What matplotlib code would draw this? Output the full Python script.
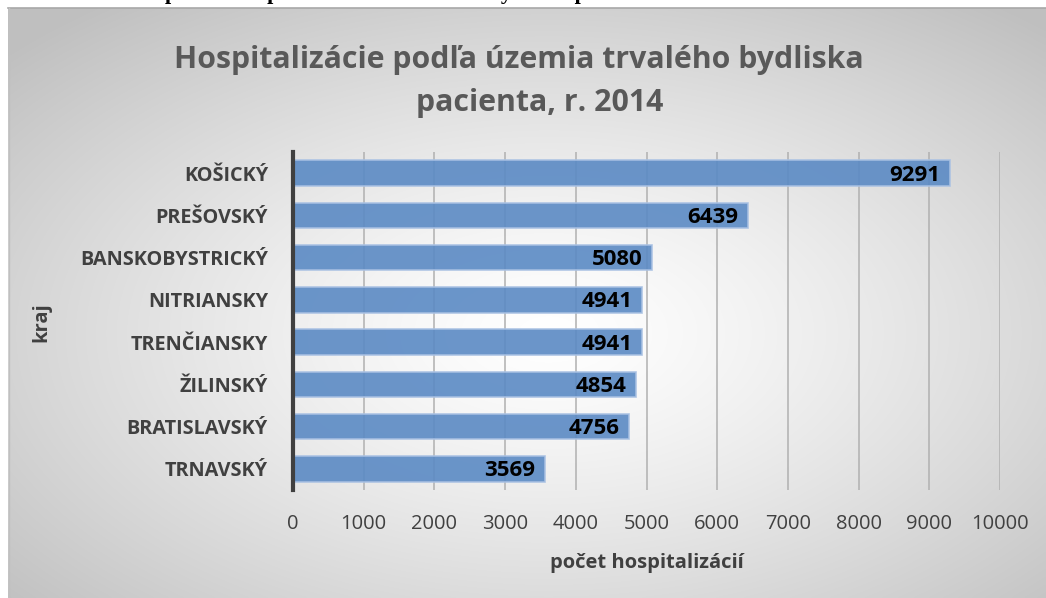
import numpy as np
import matplotlib
matplotlib.use("Agg")
import matplotlib.pyplot as plt

categories = ["KOŠICKÝ", "PREŠOVSKÝ", "BANSKOBYSTRICKÝ", "NITRIANSKY",
              "TRENČIANSKY", "ŽILINSKÝ", "BRATISLAVSKÝ", "TRNAVSKÝ"]
values = [9291, 6439, 5080, 4941, 4941, 4854, 4756, 3569]
xticks = [0, 1000, 2000, 3000, 4000, 5000, 6000, 7000, 8000, 9000, 10000]
title = "Hospitalizácie podľa územia trvalého bydliska\npacienta, r. 2014"
xlabel = "počet hospitalizácií"
ylabel = "kraj"
caption = "Hospitalizácie podľa územia trvalého bydliska pacienta"

plt.rcParams['font.family'] = ['Open Sans', 'DejaVu Sans']

W, H = 1046, 598
fig = plt.figure(figsize=(W / 100, H / 100), dpi=100)
fig.patch.set_facecolor("white")

# background radial gradient of chart area
bg = fig.add_axes([8 / W, 0, 1 - 8 / W, 1 - 8 / H], zorder=0)
ny, nx = 300, 520
yy, xx = np.mgrid[0:ny, 0:nx]
cx, cy = nx * 0.52, ny * 0.55
r = np.sqrt(((xx - cx) / (nx * 0.5)) ** 2 + ((yy - cy) / (ny * 0.5)) ** 2) / np.sqrt(2)
g = 1.0 - 0.25 * np.clip(r, 0, 1) ** 1.3
bg.imshow(np.dstack([g, g, g]), aspect="auto", extent=[0, 1, 0, 1], interpolation="bilinear")
bg.set_axis_off()
fig.add_artist(plt.Line2D([8 / W, 1], [1 - 7.5 / H, 1 - 7.5 / H], color="#a8a8a8", lw=1.2))
fig.add_artist(plt.Line2D([8.5 / W, 8.5 / W], [0, 1 - 7.5 / H], color="#c0c0c0", lw=1.0))

# cut-off caption above the chart (cropped in the source image)
fig.text(128 / W, 1 + 1 / H, caption, family="Liberation Serif", weight="bold",
         fontsize=16, color="black", ha="left", va="baseline")

ax = fig.add_axes([293 / W, 1 - 490 / H, (1000 - 293) / W, (490 - 152) / H], zorder=2)
ax.patch.set_alpha(0)
y = np.arange(len(categories))
ax.barh(y, values, height=0.6, color="#5b8ac4", alpha=0.9,
        edgecolor="#a9c1e3", linewidth=1.2, zorder=3)
ax.set_ylim(len(categories) - 0.5, -0.5)
ax.set_xlim(0, 10000)
ax.set_xticks(xticks)
ax.set_xticklabels([str(t) for t in xticks], fontsize=14.5, color="#404040")
ax.set_yticks(y)
ax.set_yticklabels(categories, fontsize=14.3, fontweight="bold", color="#404040")
ax.tick_params(axis="both", length=0)
ax.tick_params(axis="x", pad=17)
ax.tick_params(axis="y", pad=18)
ax.grid(axis="x", color="#b0b0b0", lw=1.1, zorder=1)
for s in ["top", "right", "bottom"]:
    ax.spines[s].set_visible(False)
ax.spines["left"].set_color("#404040")
ax.spines["left"].set_linewidth(3)
ax.spines["left"].set_zorder(4)

for yi, v in zip(y, values):
    ax.text(v - 140, yi + 0.05, str(v), ha="right", va="center",
            fontsize=16, fontweight="bold", color="black", zorder=5)

ax.set_xlabel(xlabel, fontsize=14.5, fontweight="bold", color="#404040", labelpad=14)
fig.text(41 / W, 1 - 322 / H, ylabel, rotation=90, fontsize=14.5, fontweight="bold",
         color="#404040", ha="center", va="center")

fig.text(519 / W, 1 - 60 / H, "Hospitalizácie podľa územia trvalého bydliska",
         fontsize=21.8, fontweight="bold", color="#595959", ha="center", va="center")
fig.text(540 / W, 1 - 103 / H, "pacienta, r. 2014",
         fontsize=21.8, fontweight="bold", color="#595959", ha="center", va="center")

fig.savefig("out.png", dpi=100)
